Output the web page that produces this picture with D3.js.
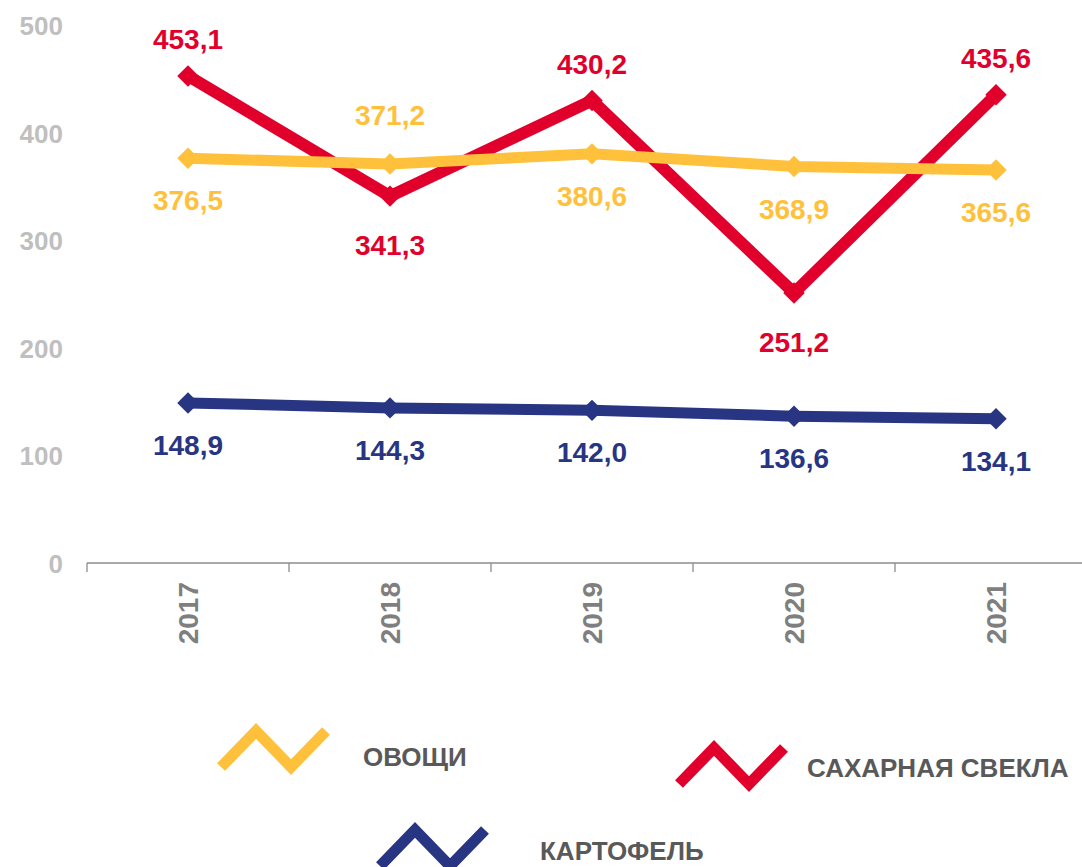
<!DOCTYPE html>
<html>
<head>
<meta charset="utf-8">
<script src="https://cdn.jsdelivr.net/npm/d3@7"></script>
<style>
  html, body { margin: 0; padding: 0; background: #fff; }
  svg { display: block; font-family: "Liberation Sans", Arial, sans-serif; }
</style>
</head>
<body>
<svg id="chart" width="1082" height="867"></svg>
<script>
// ---- data ----
const years = ["2017", "2018", "2019", "2020", "2021"];
const vegetables = [376.5, 371.2, 380.6, 368.9, 365.6];     // ОВОЩИ
const sugarBeet = [453.1, 341.3, 430.2, 251.2, 435.6];      // САХАРНАЯ СВЕКЛА
const potatoes = [148.9, 144.3, 142.0, 136.6, 134.1];       // КАРТОФЕЛЬ
const yTicks = [0, 100, 200, 300, 400, 500];
const seriesNames = ["ОВОЩИ", "САХАРНАЯ СВЕКЛА", "КАРТОФЕЛЬ"];
// label placement: "a" above, "b" below
const vegLabelPos = ["b", "a", "b", "b", "b"];
const beetLabelPos = ["a", "b", "a", "b", "a"];
const potLabelPos = ["b", "b", "b", "b", "b"];

const fmt = v => v.toFixed(1).replace(".", ",");

const svg = d3.select("#chart");
const x = d3.scaleBand().domain(years).range([87, 87 + 5 * 202]).padding(0);
const y = d3.scaleLinear().domain([0, 500]).range([563, 25.5]);
const cx = d => x(d) + x.bandwidth() / 2;

// y tick labels
const yAxis = d3.axisLeft(y).tickValues(yTicks).tickSize(0).tickPadding(0).tickFormat(d3.format("d"));
const gy = svg.append("g").attr("transform", "translate(63,0)").call(yAxis);
gy.select(".domain").remove();
gy.selectAll("text")
  .attr("font-size", 26).attr("font-weight", "bold")
  .attr("fill", "#bfbfbf").attr("font-family", "Liberation Sans, Arial, sans-serif")
  .attr("dy", "0.36em");

// x axis line and boundary ticks
const gx = svg.append("g");
gx.append("line").attr("x1", x.range()[0]).attr("x2", x.range()[1])
  .attr("y1", y(0)).attr("y2", y(0)).attr("stroke", "#8c8c8c").attr("stroke-width", 1.3);
const bounds = years.map(d => x(d)).concat([x.range()[1]]);
gx.selectAll(".tk").data(bounds).join("line")
  .attr("x1", d => d).attr("x2", d => d)
  .attr("y1", y(0)).attr("y2", y(0) + 9)
  .attr("stroke", "#8c8c8c").attr("stroke-width", 1.3);
gx.selectAll(".yr").data(years).join("text")
  .attr("transform", d => `translate(${cx(d)},582) rotate(-90)`)
  .attr("text-anchor", "end").attr("dy", "0.36em")
  .attr("font-size", 28).attr("font-weight", "bold").attr("fill", "#7f7f7f")
  .text(d => d);

// series
const series = [
  { name: seriesNames[2], values: potatoes, pos: potLabelPos, color: "#283583", width: 11, above: -38, below: 42 },
  { name: seriesNames[1], values: sugarBeet, pos: beetLabelPos, color: "#e1002b", width: 12, above: -37, below: 49 },
  { name: seriesNames[0], values: vegetables, pos: vegLabelPos, color: "#ffc13b", width: 11, above: -49, below: 42 }
];

const line = d3.line().x((v, i) => cx(years[i])).y(v => y(v));

series.forEach(s => {
  const g = svg.append("g");
  g.append("path").attr("d", line(s.values)).attr("fill", "none")
    .attr("stroke", s.color).attr("stroke-width", s.width).attr("stroke-linejoin", "miter");
  g.selectAll("path.m").data(s.values).join("path").attr("class", "m")
    .attr("d", d3.symbol().type(d3.symbolSquare).size(230))
    .attr("transform", (v, i) => `translate(${cx(years[i])},${y(v)}) rotate(45)`)
    .attr("fill", s.color);
});

// data labels (drawn after all lines)
series.forEach(s => {
  svg.append("g").selectAll("text").data(s.values).join("text")
    .attr("x", (v, i) => cx(years[i]))
    .attr("y", (v, i) => y(v) + (s.pos[i] === "a" ? s.above : s.below))
    .attr("dy", "0.36em").attr("text-anchor", "middle")
    .attr("font-size", 28).attr("font-weight", "bold").attr("fill", s.color)
    .text(v => fmt(v));
});

// legend
const legend = [
  { name: seriesNames[0], color: "#ffc13b", x0: 221, yTop: 731, tx: 363, ty: 756.5 },
  { name: seriesNames[1], color: "#e1002b", x0: 679, yTop: 748, tx: 807, ty: 768 },
  { name: seriesNames[2], color: "#283583", x0: 380, yTop: 830, tx: 540, ty: 851 }
];
legend.forEach(l => {
  const h = 36, w = 35;
  const pts = [[l.x0, l.yTop + h], [l.x0 + w, l.yTop], [l.x0 + 2 * w, l.yTop + h], [l.x0 + 3 * w, l.yTop]];
  svg.append("path").attr("d", d3.line()(pts)).attr("fill", "none")
    .attr("stroke", l.color).attr("stroke-width", 11).attr("stroke-linejoin", "miter");
  svg.append("text").attr("x", l.tx).attr("y", l.ty).attr("dy", "0.36em")
    .attr("font-size", 26).attr("font-weight", "bold").attr("fill", "#595959")
    .text(l.name);
});
</script>
</body>
</html>
